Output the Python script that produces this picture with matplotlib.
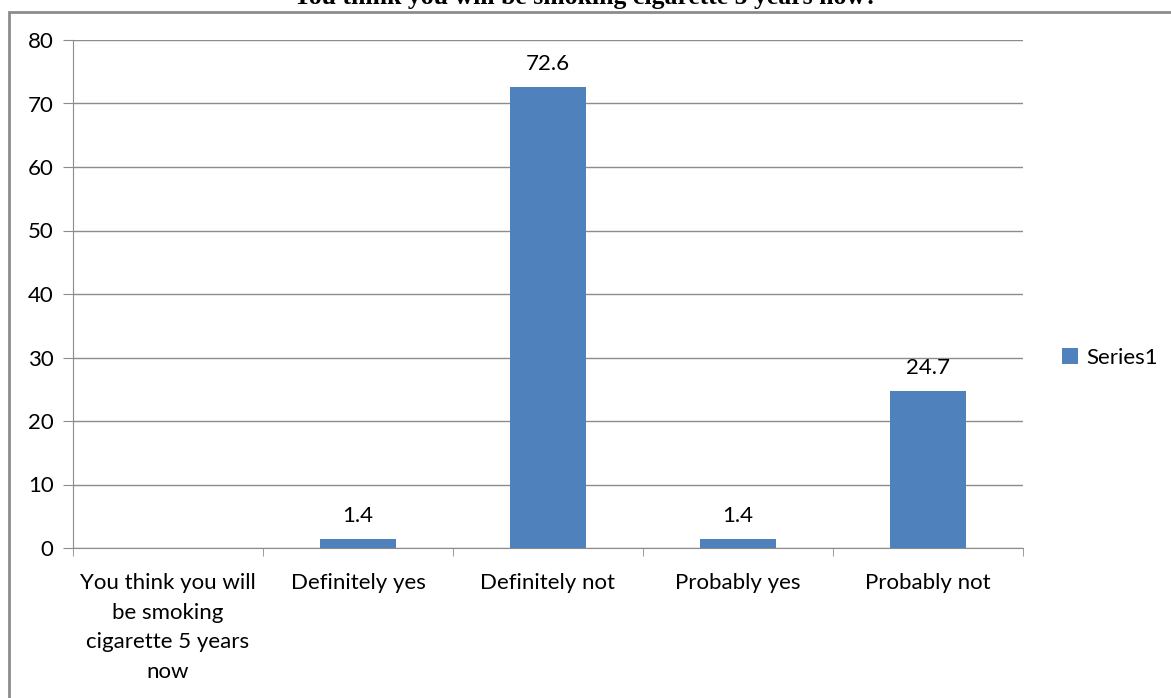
import numpy as np
import matplotlib.pyplot as plt
from matplotlib.patches import Rectangle

categories = ["You think you will\nbe smoking\ncigarette 5 years\nnow",
              "Definitely yes", "Definitely not", "Probably yes", "Probably not"]
values = [np.nan, 1.4, 72.6, 1.4, 24.7]
series_name = "Series1"
title = "You think you will be smoking cigarette 5 years now?"

plt.rcParams["font.family"] = ["Lato", "DejaVu Sans"]
fs = 16

fig = plt.figure(figsize=(11.71, 6.98), dpi=100)
ax = fig.add_axes([73 / 1171, 1 - 548 / 698, 950 / 1171, 508 / 698])

x = np.arange(len(categories))
ax.bar(x, values, width=0.4, color="#4F81BD", label=series_name, zorder=3)
for xi, v in zip(x, values):
    if not np.isnan(v):
        ax.text(xi, v + 2.1, f"{v}", ha="center", va="bottom", fontsize=fs)

ax.set_xlim(-0.5, len(categories) - 0.5)
ax.set_ylim(0, 80)
ax.set_yticks(range(0, 81, 10))
ax.yaxis.grid(True, color="#8c8c8c", linewidth=1)
ax.set_axisbelow(True)

ax.set_xticks(x)
ax.set_xticklabels(categories, fontsize=fs, linespacing=1.6)
ax.set_xticks(np.arange(-0.5, len(categories)), minor=True)
ax.tick_params(axis="x", which="major", length=0, pad=18)
ax.tick_params(axis="x", which="minor", length=6, color="#8c8c8c")
ax.tick_params(axis="y", length=7, color="#8c8c8c", labelsize=fs, pad=7)

for s in ["top", "right"]:
    ax.spines[s].set_visible(False)
for s in ["left", "bottom"]:
    ax.spines[s].set_color("#8c8c8c")

ax.legend(loc="center left", bbox_to_anchor=(1.032, (548 - 358) / 508), frameon=False,
          borderaxespad=0, fontsize=fs, handlelength=0.7, handleheight=0.7,
          handletextpad=0.4)

# outer chart frame
fig.patches.append(Rectangle((9 / 1171, -0.1), 1.2, 1.1 - 12 / 698, transform=fig.transFigure,
                             fill=False, edgecolor="#8c8c8c", linewidth=2))

fig.text(0.5, 1 - 4 / 698, title, ha="center", va="baseline",
         fontsize=18.5, fontweight="bold", family="Liberation Serif")

fig.savefig("out.png", dpi=100)
